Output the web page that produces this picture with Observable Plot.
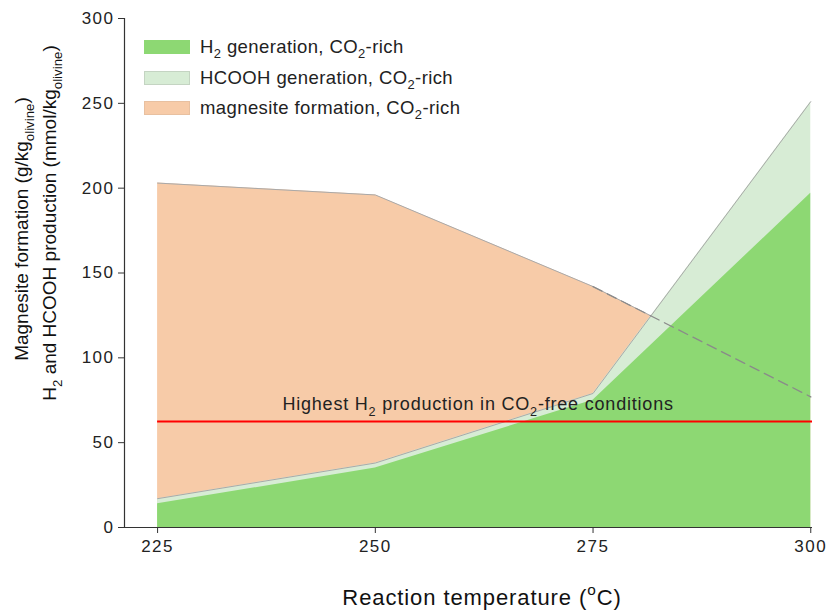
<!DOCTYPE html>
<html><head><meta charset="utf-8">
<script src="https://cdn.jsdelivr.net/npm/d3@7"></script>
<script src="https://cdn.jsdelivr.net/npm/@observablehq/plot@0.6"></script>
<style>
body{margin:0;background:#fff;font-family:"Liberation Sans",Arial,sans-serif;}
#wrap{position:relative;width:829px;height:613px;overflow:hidden;}
.legend{position:absolute;left:144px;top:32px;font-size:18.5px;letter-spacing:0.4px;color:#222;}
.row{display:flex;align-items:center;height:30.5px;}
.sw{width:46px;height:14px;margin-right:10px;box-sizing:border-box;}
sub{font-size:0.7em;vertical-align:-0.35em;line-height:0;}
</style></head><body><div id="wrap"></div>
<script>
// ---- data ----
const temps = [225, 250, 275, 300];
const h2 = [14, 35, 75, 197];
const hcooh = [3, 3, 4, 54];
const magnesite = [203, 196, 142, 77];
const xTicks = [225, 250, 275, 300];
const yTicks = [0, 50, 100, 150, 200, 250, 300];
const xDomain = [221.2, 300.2];
const yDomain = [0, 300];
const co2FreeH2 = [62.5];
const refSpan = [225, 300.2];
const legendLabels = [
  ["H", "2", " generation, CO", "2", "-rich"],
  ["HCOOH generation, CO", "2", "-rich"],
  ["magnesite formation, CO", "2", "-rich"]
];

const green = "#8dd873", lightGreen = "#d7ecd5", orange = "#f7cba8", edge = "#a9a9a9";

const rows = temps.map((t, i) => ({t, h2: h2[i], total: h2[i] + hcooh[i], mag: magnesite[i]}));
const dashedRows = rows.slice(2);

const plot = Plot.plot({
  width: 829, height: 613,
  marginLeft: 124, marginRight: 17, marginTop: 18, marginBottom: 86,
  style: {fontFamily: "'Liberation Sans', Arial, sans-serif", fontSize: "17px", color: "#222", background: "#fff"},
  x: {domain: xDomain},
  y: {domain: yDomain},
  marks: [
    Plot.areaY(rows, {x: "t", y: "mag", fill: orange}),
    Plot.lineY(rows, {x: "t", y: "mag", stroke: edge, strokeWidth: 1}),
    Plot.areaY(rows, {x: "t", y: "total", fill: lightGreen}),
    Plot.lineY(rows, {x: "t", y: "total", stroke: edge, strokeWidth: 1}),
    Plot.areaY(rows, {x: "t", y: "h2", fill: green}),
    Plot.lineY(dashedRows, {x: "t", y: "mag", stroke: "#8a8a8a", strokeWidth: 1.3, strokeDasharray: "10,6"}),
    Plot.ruleY(co2FreeH2, {x1: refSpan[0], x2: refSpan[1], stroke: "#ff0000", strokeWidth: 2}),
    Plot.text(co2FreeH2, {x: (refSpan[0] + refSpan[1]) / 2 - 0.8, y: d => d, text: () => "Highest H2 production in CO2-free conditions", dy: -17, fontSize: 18, fill: "#222"}),
    Plot.ruleY([yDomain[0]], {stroke: "#333", strokeWidth: 1.2}),
    Plot.ruleX([xDomain[0]], {stroke: "#333", strokeWidth: 1.2}),
    Plot.axisX({ticks: xTicks, tickSize: 6, tickPadding: 6, label: null, fontSize: 17, stroke: "#333"}),
    Plot.axisY({ticks: yTicks, tickSize: 6, tickPadding: 4, label: null, fontSize: 17, stroke: "#333"})
  ]
});

// rebuild a text with sub/superscript tspans (odd parts are scripts)
function rich(el, parts, mode) {
  const sel = d3.select(el);
  sel.text(null);
  const shift = mode === "sup" ? -0.45 : 0.3; // in parent em
  parts.forEach((p, i) => {
    const ts = sel.append("tspan").text(p);
    if (i % 2 === 1) ts.attr("font-size", "0.7em").attr("dy", (shift / 0.7) + "em");
    else if (i > 0) ts.attr("dy", (-shift) + "em");
  });
}

const svg = d3.select(plot.tagName === "svg" ? plot : plot.querySelector("svg"));
svg.selectAll("[aria-label^='x-axis tick label'] text, [aria-label^='y-axis tick label'] text")
  .style("letter-spacing", "1.5px").attr("fill", "#222");
svg.selectAll("text").filter(function () { return this.textContent.startsWith("Highest"); })
  .style("letter-spacing", "0.8px")
  .each(function () { rich(this, ["Highest H", "2", " production in CO", "2", "-free conditions"]); });

// axis titles
const xl = svg.append("text").attr("x", 482).attr("y", 605).attr("text-anchor", "middle")
  .attr("font-size", 22).style("letter-spacing", "0.9px").attr("fill", "#111");
rich(xl.node(), ["Reaction temperature (", "o", "C)"], "sup");

const yl1 = svg.append("text").attr("transform", "translate(28,229) rotate(-90)")
  .attr("text-anchor", "middle").attr("font-size", 19).attr("fill", "#111");
rich(yl1.node(), ["Magnesite formation (g/kg", "olivine", ")"]);
const yl2 = svg.append("text").attr("transform", "translate(56,223) rotate(-90)")
  .attr("text-anchor", "middle").attr("font-size", 19).attr("fill", "#111");
rich(yl2.node(), ["H", "2", " and HCOOH production (mmol/kg", "olivine", ")"]);

const wrap = document.getElementById("wrap");
wrap.appendChild(plot);

// legend
const legend = document.createElement("div");
legend.className = "legend";
const swatches = [[green, green], [lightGreen, "#c4d4c2"], [orange, "#e8c0a0"]];
legendLabels.forEach((parts, i) => {
  const row = document.createElement("div");
  row.className = "row";
  const sw = document.createElement("div");
  sw.className = "sw";
  sw.style.background = swatches[i][0];
  sw.style.border = "1px solid " + swatches[i][1];
  row.appendChild(sw);
  const lab = document.createElement("span");
  lab.innerHTML = parts.map((p, j) => j % 2 ? "<sub>" + p + "</sub>" : p).join("");
  row.appendChild(lab);
  legend.appendChild(row);
});
wrap.appendChild(legend);
</script></body></html>
